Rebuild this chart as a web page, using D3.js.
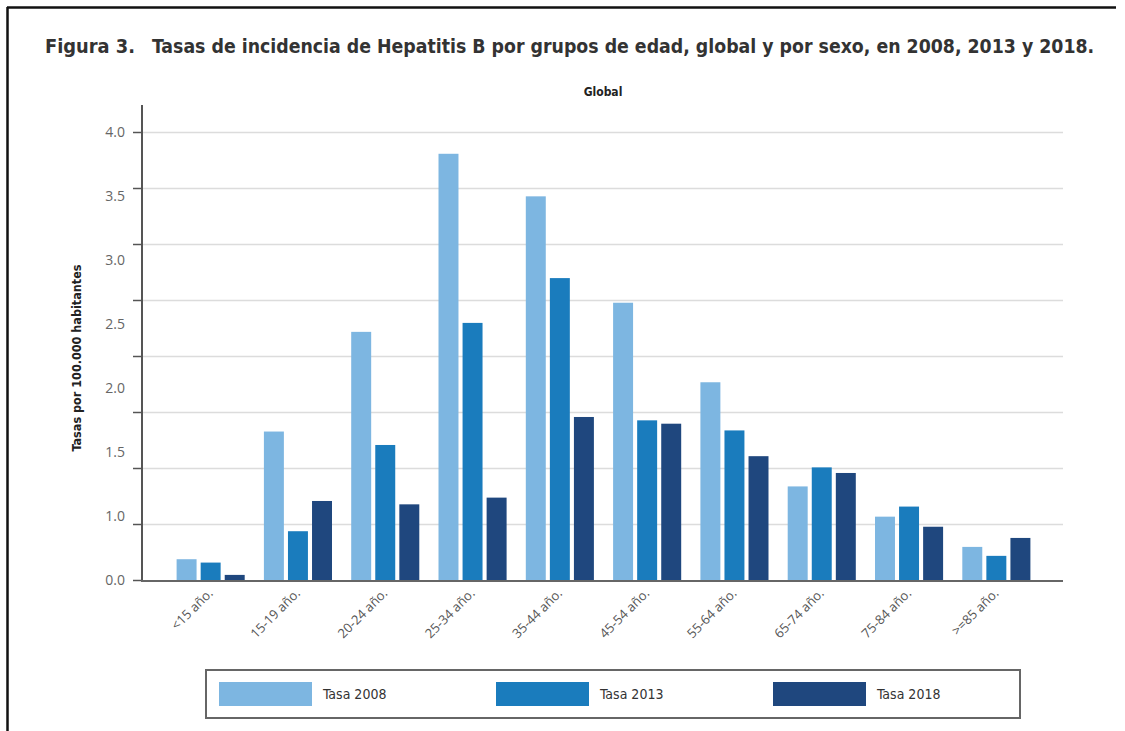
<!DOCTYPE html>
<html><head><meta charset="utf-8">
<script src="https://cdn.jsdelivr.net/npm/d3@7"></script>
<style>body{margin:0;background:#fff}svg{display:block}</style>
</head><body>
<svg id="c" width="1125" height="731"></svg>
<script>
const categories = ["<15 año.","15-19 año.","20-24 año.","25-34 año.","35-44 año.","45-54 año.","55-64 año.","65-74 año.","75-84 año.",">=85 año."];
const seriesNames = ["Tasa 2008","Tasa 2013","Tasa 2018"];
const tasa2008 = [0.19, 1.33, 2.22, 3.81, 3.43, 2.48, 1.77, 0.84, 0.57, 0.30];
const tasa2013 = [0.16, 0.44, 1.21, 2.30, 2.70, 1.43, 1.34, 1.01, 0.66, 0.22];
const tasa2018 = [0.05, 0.71, 0.68, 0.74, 1.46, 1.40, 1.11, 0.96, 0.48, 0.38];
const yTickValues = [0, 0.5, 1, 1.5, 2, 2.5, 3, 3.5, 4];
const yTickLabels = ["0.0","1.0","1.5","2.0","2.5","3.0","3.5","4.0"];
const colors = ["#7db6e1","#1a7cbd","#1f477e"];
const seriesValues = [tasa2008, tasa2013, tasa2018];

const svg = d3.select("#c");
const condensed = "'DejaVu Sans Condensed','Liberation Sans Narrow','DejaVu Sans',sans-serif";

// squeeze a text horizontally (in its own frame) to a target width
function fitWidth(sel, target) {
  sel.each(function() {
    const len = this.getComputedTextLength();
    const k = Math.min(1, target / len);
    const base = this.getAttribute("data-base") || "";
    this.setAttribute("transform", `${base} scale(${k},1)`);
  });
}

// frame
svg.append("line").attr("x1",7).attr("x2",1116).attr("y1",7.5).attr("y2",7.5).attr("stroke","#111").attr("stroke-width",2.5);
svg.append("line").attr("x1",7.5).attr("x2",7.5).attr("y1",7).attr("y2",731).attr("stroke","#111").attr("stroke-width",2.5);

// title
const tStyle = s => s.attr("font-family",condensed).attr("font-stretch","condensed").attr("font-weight","bold")
  .attr("font-size",20).attr("fill","#333");
svg.append("text").attr("data-base","translate(45,53)").call(tStyle).text("Figura 3.").call(fitWidth, 90);
svg.append("text").attr("data-base","translate(152,53)").call(tStyle)
  .text("Tasas de incidencia de Hepatitis B por grupos de edad, global y por sexo, en 2008, 2013 y 2018.")
  .call(fitWidth, 943);
svg.append("text").attr("x",603).attr("y",96).attr("text-anchor","middle")
  .attr("font-family",condensed).attr("font-stretch","condensed").attr("font-weight","bold").attr("font-size",12).attr("fill","#222").text("Global");

const y = d3.scaleLinear().domain([0,4]).range([580.5,132.5]);
const x = d3.scaleBand().domain(categories).range([167,1040]).paddingInner(0.22).paddingOuter(0.11);
const xs = d3.scaleBand().domain(seriesNames).range([0,x.bandwidth()]).paddingInner(0.17);

// gridlines
svg.append("g").selectAll("line").data(yTickValues.filter(v=>v>0)).join("line")
  .attr("x1",142).attr("x2",1063).attr("y1",d=>y(d)).attr("y2",d=>y(d))
  .attr("stroke","#dcdcdc").attr("stroke-width",1.5);

// tick marks
svg.append("g").selectAll("line").data(yTickValues).join("line")
  .attr("x1",133).attr("x2",142).attr("y1",d=>y(d)).attr("y2",d=>y(d))
  .attr("stroke","#555").attr("stroke-width",1.5);

// labels (as in the reference: 8 labels evenly spread over the axis)
const yl = d3.scalePoint().domain(yTickLabels).range([y(0), y(4)]);
svg.append("g").selectAll("text").data(yTickLabels).join("text")
  .attr("x",125).attr("y",d=>yl(d)).attr("dy","0.35em").attr("text-anchor","end")
  .attr("font-family","'Open Sans','DejaVu Sans',sans-serif").attr("font-size",14).attr("fill","#666")
  .text(d=>d);

// bars
const groups = svg.append("g").selectAll("g").data(categories).join("g")
  .attr("transform",d=>`translate(${x(d)},0)`);
groups.selectAll("rect").data((d,i)=>seriesNames.map((s,j)=>({s, v: seriesValues[j][i], j}))).join("rect")
  .attr("x",d=>xs(d.s)).attr("width",xs.bandwidth())
  .attr("y",d=>y(d.v)).attr("height",d=>y(0)-y(d.v))
  .attr("fill",d=>colors[d.j]);

// axes lines
svg.append("line").attr("x1",142).attr("x2",142).attr("y1",105).attr("y2",581.5).attr("stroke","#555").attr("stroke-width",2);
svg.append("line").attr("x1",141).attr("x2",1063).attr("y1",581).attr("y2",581).attr("stroke","#666").attr("stroke-width",2);

// x labels
svg.append("g").selectAll("text").data(categories).join("text")
  .attr("transform",d=>`translate(${x(d)+x.bandwidth()/2+3},${594}) rotate(-45)`)
  .attr("text-anchor","end")
  .attr("font-family","'Open Sans','DejaVu Sans',sans-serif").attr("font-size",13).attr("fill","#555")
  .text(d=>d);

// y title
svg.append("text").attr("transform","translate(81,358) rotate(-90)").attr("text-anchor","middle")
  .attr("font-family",condensed).attr("font-stretch","condensed").attr("font-weight","bold").attr("font-size",12.5).attr("fill","#222")
  .text("Tasas por 100.000 habitantes");

// legend
svg.append("rect").attr("x",206).attr("y",670).attr("width",814).attr("height",48)
  .attr("fill","none").attr("stroke","#666").attr("stroke-width",2);
const legX = d3.scalePoint().domain(seriesNames).range([219,773]);
const lg = svg.append("g").selectAll("g").data(seriesNames).join("g")
  .attr("transform",d=>`translate(${legX(d)},682)`);
lg.append("rect").attr("width",93).attr("height",24).attr("fill",(d,i)=>colors[i]);
lg.append("text").attr("x",104).attr("y",12).attr("dy","0.35em")
  .attr("font-family",condensed).attr("font-stretch","condensed").attr("font-size",14).attr("fill","#333").text(d=>d);
</script>
</body></html>
